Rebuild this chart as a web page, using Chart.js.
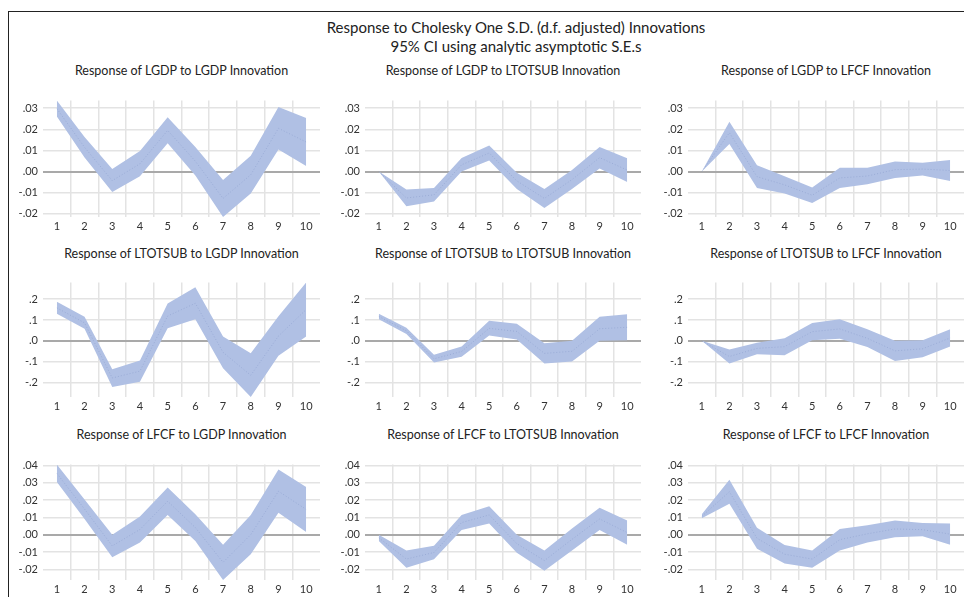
<!DOCTYPE html>
<html>
<head>
<meta charset="utf-8">
<script src="https://cdn.jsdelivr.net/npm/chart.js@4.4.1/dist/chart.umd.min.js"></script>
<style>
  html, body { margin: 0; padding: 0; background: #fff; }
  body { width: 964px; height: 597px; overflow: hidden; position: relative; font-family: Lato, "Open Sans", sans-serif; }
  #frame { position: absolute; left: 8px; top: 11px; width: 1000px; height: 700px; border-top: 1.5px solid #222; border-left: 1.5px solid #222; }
  .main { position: absolute; left: 216px; width: 600px; text-align: center; color: #222; font-size: 15px; white-space: nowrap; }
  .ptitle { position: absolute; width: 300px; text-align: center; color: #222; font-size: 12.5px; white-space: nowrap; }
  canvas { position: absolute; }
</style>
</head>
<body>
<div id="frame"></div>
<div class="main" style="top:18px">Response to Cholesky One S.D. (d.f. adjusted) Innovations</div>
<div class="main" style="top:37px">95% CI using analytic asymptotic S.E.s</div>
<div id="titles"></div>
<div id="panels"></div>
<script>
// Forecast horizon
const periods = ['1', '2', '3', '4', '5', '6', '7', '8', '9', '10'];

// Response of LGDP
const lgdpToLgdpUpper = [0.0336, 0.0164, 0.0012, 0.0097, 0.0257, 0.0116, -0.0040, 0.0075, 0.0306, 0.0254];
const lgdpToLgdpLower = [0.0261, 0.0067, -0.0097, -0.0022, 0.0134, -0.0018, -0.0215, -0.0104, 0.0104, 0.0027];
const lgdpToLgdpMid = [0.0298, 0.0115, -0.0043, 0.0037, 0.0195, 0.0049, -0.0127, -0.0015, 0.0205, 0.0140];

const lgdpToLtotsubUpper = [0, -0.0085, -0.0078, 0.0064, 0.0124, -0.0005, -0.0082, 0.0007, 0.0116, 0.0063];
const lgdpToLtotsubLower = [0, -0.0164, -0.0142, 0.0000, 0.0052, -0.0082, -0.0172, -0.0082, 0.0015, -0.0049];
const lgdpToLtotsubMid = [0, -0.0125, -0.0110, 0.0032, 0.0088, -0.0044, -0.0127, -0.0038, 0.0066, 0.0007];

const lgdpToLfcfUpper = [0, 0.0236, 0.0030, -0.0022, -0.0075, 0.0018, 0.0018, 0.0048, 0.0042, 0.0055];
const lgdpToLfcfLower = [0, 0.0131, -0.0078, -0.0104, -0.0149, -0.0078, -0.0060, -0.0030, -0.0018, -0.0045];
const lgdpToLfcfMid = [0, 0.0184, -0.0024, -0.0063, -0.0112, -0.0030, -0.0021, 0.0009, 0.0012, 0.0005];

// Response of LTOTSUB
const ltotsubToLgdpUpper = [0.187, 0.115, -0.136, -0.094, 0.179, 0.257, 0.021, -0.060, 0.118, 0.279];
const ltotsubToLgdpLower = [0.130, 0.058, -0.221, -0.196, 0.060, 0.103, -0.131, -0.269, -0.072, 0.021];
const ltotsubToLgdpMid = [0.158, 0.086, -0.178, -0.145, 0.119, 0.180, -0.055, -0.165, 0.023, 0.150];

const ltotsubToLtotsubUpper = [0.130, 0.063, -0.067, -0.027, 0.096, 0.082, -0.012, 0.000, 0.115, 0.127];
const ltotsubToLtotsubLower = [0.104, 0.033, -0.104, -0.076, 0.025, 0.007, -0.109, -0.099, 0.000, 0.003];
const ltotsubToLtotsubMid = [0.117, 0.048, -0.086, -0.051, 0.060, 0.045, -0.060, -0.050, 0.058, 0.065];

const ltotsubToLfcfUpper = [0, -0.042, -0.009, 0.013, 0.085, 0.104, 0.055, 0.000, 0.003, 0.055];
const ltotsubToLfcfLower = [0, -0.109, -0.064, -0.069, 0.003, 0.010, -0.030, -0.097, -0.079, -0.027];
const ltotsubToLfcfMid = [0, -0.075, -0.036, -0.028, 0.044, 0.057, 0.012, -0.048, -0.038, 0.014];

// Response of LFCF
const lfcfToLgdpUpper = [0.0405, 0.0204, 0.0000, 0.0105, 0.0273, 0.0118, -0.0058, 0.0113, 0.0376, 0.0276];
const lfcfToLgdpLower = [0.0304, 0.0091, -0.0131, -0.0045, 0.0113, -0.0036, -0.0262, -0.0113, 0.0127, 0.0015];
const lfcfToLgdpMid = [0.0354, 0.0148, -0.0065, 0.0030, 0.0193, 0.0041, -0.0160, 0.0000, 0.0251, 0.0146];

const lfcfToLtotsubUpper = [0.0000, -0.0091, -0.0064, 0.0113, 0.0164, 0.0000, -0.0091, 0.0036, 0.0155, 0.0082];
const lfcfToLtotsubLower = [-0.0036, -0.0191, -0.0142, 0.0027, 0.0064, -0.0105, -0.0209, -0.0091, 0.0027, -0.0058];
const lfcfToLtotsubMid = [-0.0018, -0.0141, -0.0103, 0.0070, 0.0114, -0.0052, -0.0150, -0.0027, 0.0091, 0.0012];

const lfcfToLfcfUpper = [0.0118, 0.0318, 0.0040, -0.0060, -0.0091, 0.0033, 0.0055, 0.0082, 0.0067, 0.0064];
const lfcfToLfcfLower = [0.0095, 0.0178, -0.0082, -0.0167, -0.0191, -0.0091, -0.0045, -0.0015, -0.0009, -0.0058];
const lfcfToLfcfMid = [0.0106, 0.0248, -0.0021, -0.0113, -0.0141, -0.0029, 0.0005, 0.0033, 0.0029, 0.0003];

// Y-axis tick values and labels for each row of panels
const lgdpTickValues = [-0.02, -0.01, 0, 0.01, 0.02, 0.03];
const lgdpTickLabels = ['-.02', '-.01', '.00', '.01', '.02', '.03'];
const ltotsubTickValues = [-0.2, -0.1, 0, 0.1, 0.2];
const ltotsubTickLabels = ['-.2', '-.1', '.0', '.1', '.2'];
const lfcfTickValues = [-0.02, -0.01, 0, 0.01, 0.02, 0.03, 0.04];
const lfcfTickLabels = ['-.02', '-.01', '.00', '.01', '.02', '.03', '.04'];

const variables = ['LGDP', 'LTOTSUB', 'LFCF'];

const rows = [
  { ticks: lgdpTickValues, labels: lgdpTickLabels,
    panels: [[lgdpToLgdpUpper, lgdpToLgdpLower, lgdpToLgdpMid],
             [lgdpToLtotsubUpper, lgdpToLtotsubLower, lgdpToLtotsubMid],
             [lgdpToLfcfUpper, lgdpToLfcfLower, lgdpToLfcfMid]] },
  { ticks: ltotsubTickValues, labels: ltotsubTickLabels,
    panels: [[ltotsubToLgdpUpper, ltotsubToLgdpLower, ltotsubToLgdpMid],
             [ltotsubToLtotsubUpper, ltotsubToLtotsubLower, ltotsubToLtotsubMid],
             [ltotsubToLfcfUpper, ltotsubToLfcfLower, ltotsubToLfcfMid]] },
  { ticks: lfcfTickValues, labels: lfcfTickLabels,
    panels: [[lfcfToLgdpUpper, lfcfToLgdpLower, lfcfToLgdpMid],
             [lfcfToLtotsubUpper, lfcfToLtotsubLower, lfcfToLtotsubMid],
             [lfcfToLfcfUpper, lfcfToLfcfLower, lfcfToLfcfMid]] }
];

// Layout of the 3x3 grid (plot-area geometry)
const colLeft = [10, 332, 655];       // canvas left edges
const colWidth = [310, 309, 309];
const yAxisWidth = 33;
const areaTop = [93, 275, 457];
const areaHeight = [124, 122, 123];
const titleCenterY = [71, 254, 435];
const padTop = 4;
const xAxisHeight = 18;

const bandColor = 'rgb(176, 192, 228)';
const midColor = 'rgba(95, 115, 175, 0.45)';
const gridColor = '#e3e3e3';
const zeroColor = '#a9a9a9';
const tickColor = '#333';

const titlesEl = document.getElementById('titles');
const panelsEl = document.getElementById('panels');

rows.forEach((row, r) => {
  // one shared value range per row of panels
  const all = row.panels.flatMap(p => p[0].concat(p[1]));
  const rowMax = Math.max(...all);
  const rowMin = Math.min(...all);

  row.panels.forEach((band, c) => {
    const [upper, lower, mid] = band;

    const t = document.createElement('div');
    t.className = 'ptitle';
    const plotCenter = colLeft[c] + yAxisWidth + (colWidth[c] - yAxisWidth) / 2;
    t.style.left = (plotCenter - 150) + 'px';
    t.style.top = (titleCenterY[r] - 8) + 'px';
    t.textContent = 'Response of ' + variables[r] + ' to ' + variables[c] + ' Innovation';
    titlesEl.appendChild(t);

    const cv = document.createElement('canvas');
    cv.width = colWidth[c];
    cv.height = padTop + areaHeight[r] + xAxisHeight;
    cv.style.left = colLeft[c] + 'px';
    cv.style.top = (areaTop[r] - padTop) + 'px';
    panelsEl.appendChild(cv);

    new Chart(cv, {
      type: 'line',
      data: {
        labels: periods,
        datasets: [
          { data: upper, fill: '+1', backgroundColor: bandColor, borderWidth: 0, pointRadius: 0, order: 2 },
          { data: lower, fill: false, borderWidth: 0, pointRadius: 0, order: 2 },
          { data: mid, fill: false, borderColor: midColor, borderWidth: 0.6, borderDash: [1, 2], pointRadius: 0, order: 1 }
        ]
      },
      options: {
        responsive: false,
        animation: false,
        devicePixelRatio: 1,
        layout: { padding: { top: padTop, left: 0, right: 0, bottom: 0 } },
        plugins: { legend: { display: false }, tooltip: { enabled: false }, title: { display: false } },
        elements: { line: { tension: 0 } },
        scales: {
          x: {
            type: 'category',
            offset: true,
            border: { display: false },
            grid: {
              offset: true,
              drawTicks: false,
              lineWidth: 1.5,
              color: ctx => (ctx.type === 'tick' && ctx.index > 0) ? gridColor : 'rgba(0,0,0,0)'
            },
            ticks: { color: tickColor, font: { family: 'Lato, "Open Sans", sans-serif', size: 11 }, padding: 3, maxRotation: 0, autoSkip: false },
            afterFit: s => { s.height = xAxisHeight; }
          },
          y: {
            min: rowMin,
            max: rowMax,
            border: { display: false },
            afterBuildTicks: s => { s.ticks = row.ticks.map(v => ({ value: v })); },
            afterFit: s => { s.width = yAxisWidth; },
            grid: {
              drawTicks: false,
              color: ctx => (ctx.tick && ctx.tick.value === 0) ? zeroColor : gridColor,
              lineWidth: ctx => (ctx.tick && ctx.tick.value === 0) ? 2 : 1.5
            },
            ticks: {
              color: tickColor,
              font: { family: 'Lato, "Open Sans", sans-serif', size: 11 },
              padding: 5,
              callback: (v, i) => row.labels[i]
            }
          }
        }
      }
    });
  });
});
</script>
</body>
</html>
